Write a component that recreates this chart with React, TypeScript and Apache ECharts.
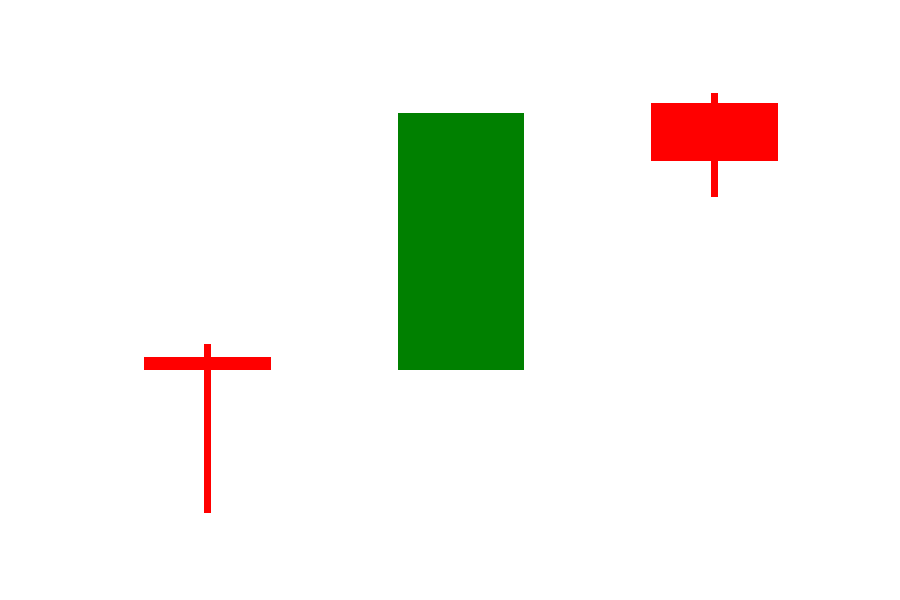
import React, { useEffect, useRef } from "react";
import * as echarts from "echarts";

const categories = ["A", "B", "C"];
// [open, close, low, high]
const openValues = [36.7, 86.7, 78.5];
const closeValues = [37.9, 36.7, 88.7];
const lowValues = [7.4, 36.7, 70.6];
const highValues = [41.2, 86.7, 91.4];

export default function App() {
  const ref = useRef<HTMLDivElement>(null);
  useEffect(() => {
    if (!ref.current) return;
    const chart = echarts.init(ref.current, undefined, { renderer: "svg" });
    const data = categories.map((_, i) => [openValues[i], closeValues[i], lowValues[i], highValues[i]]);
    chart.setOption({
      animation: false,
      backgroundColor: "#ffffff",
      grid: { left: 81, right: 59, top: 50, bottom: 50 },
      xAxis: {
        type: "category",
        data: categories,
        show: false,
      },
      yAxis: {
        type: "value",
        min: 0,
        max: 100,
        show: false,
        splitLine: { show: false },
      },
      series: [
        {
          type: "candlestick",
          data,
          barWidth: 120,
          itemStyle: {
            color: "#ff0000",
            color0: "#008000",
            borderColor: "#ff0000",
            borderColor0: "#008000",
            borderWidth: 7,
          },
        },
      ],
    });
    return () => chart.dispose();
  }, []);
  return (
    <div
      ref={ref}
      style={{ position: "fixed", left: 0, top: 0, width: 900, height: 600 }}
    />
  );
}
